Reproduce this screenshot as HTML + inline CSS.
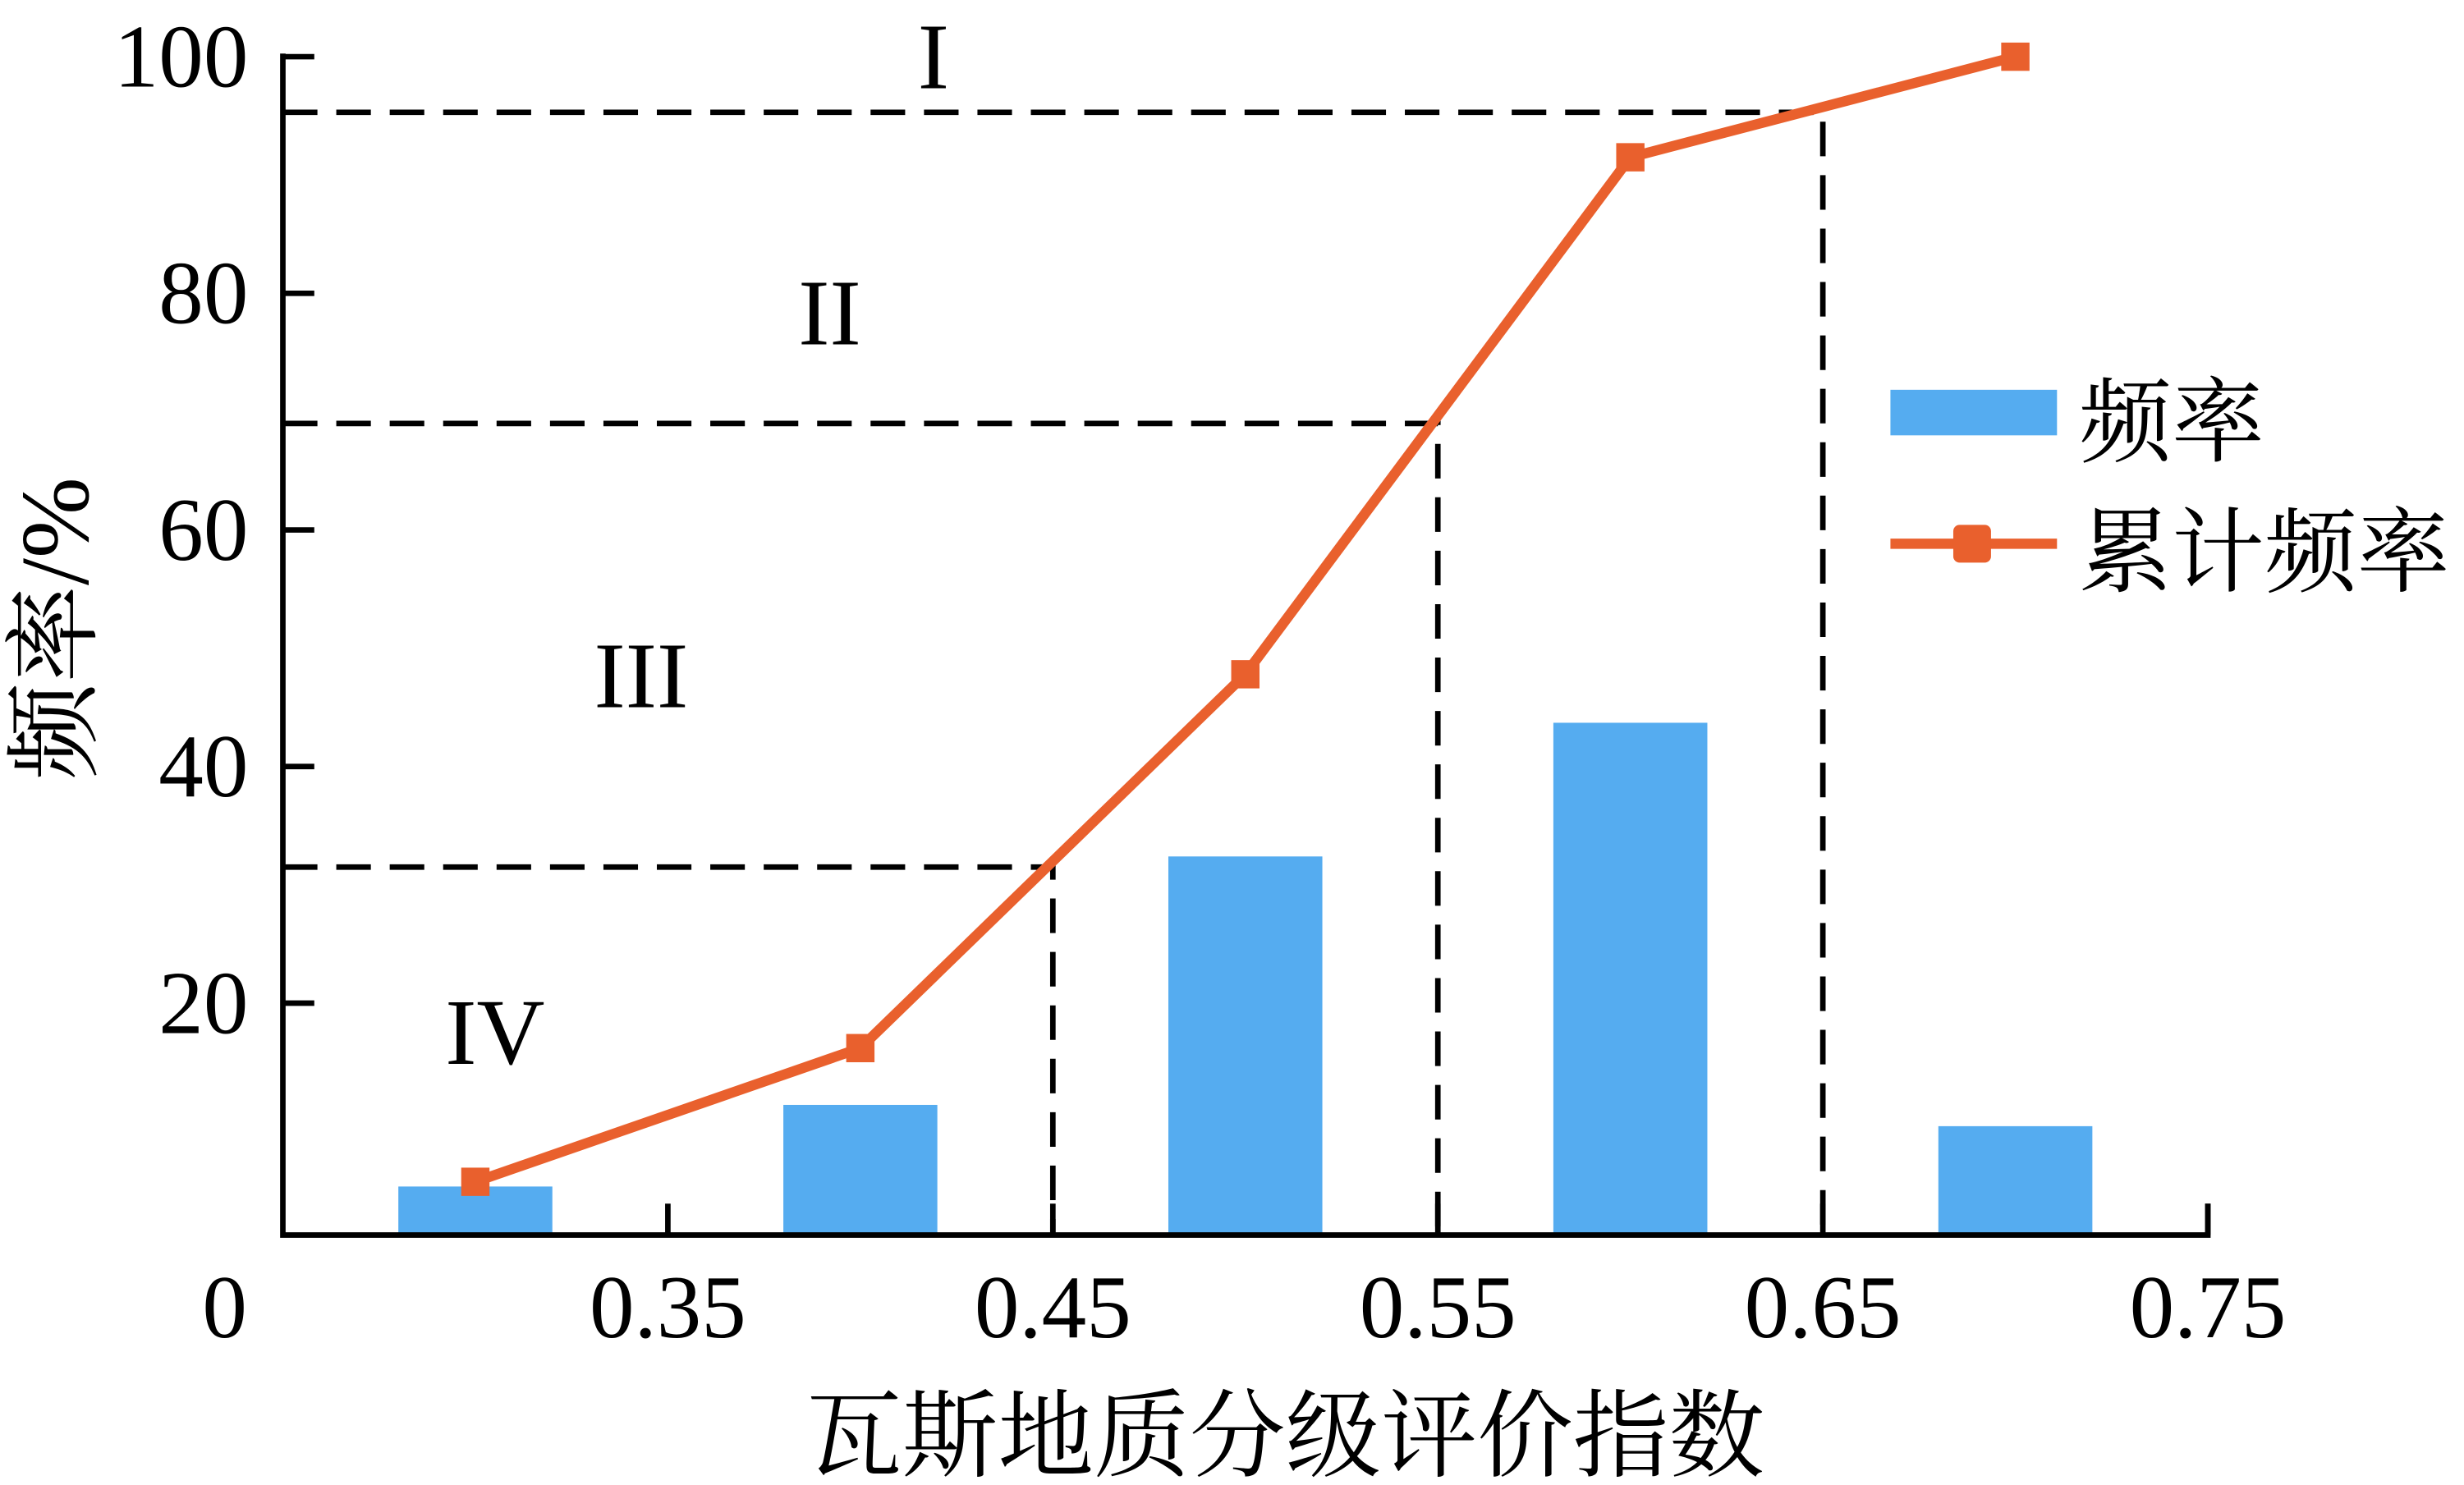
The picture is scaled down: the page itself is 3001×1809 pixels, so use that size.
<!DOCTYPE html>
<html><head><meta charset="utf-8"><style>html,body{margin:0;padding:0;background:#fff}svg{display:block}</style></head>
<body>
<svg id="chart" width="3001" height="1809" viewBox="0 0 1568 945" xmlns="http://www.w3.org/2000/svg" font-family="'Liberation Serif','Noto Serif CJK SC',serif">
<g id="g"></g>
</svg>
<script>
const categories=[0.3,0.4,0.5,0.6,0.7];
const freq=[4.5,11.4,32.4,43.7,9.6];
const cumFreq=[4.9,16.2,47.8,91.5,100];
const yTicks=[20,40,60,80,100];
const xTicks=[0.35,0.45,0.55,0.65,0.75];
const xTickLabels=["0.35","0.45","0.55","0.65","0.75"];
const thresholds=[95.3,69,31.5];
const thresholdX=[0.65,0.55,0.45];
const gradeLabels=["I","II","III","IV"];
const x0=180,x1=1405,y0=789,y1=36;
const X=v=>x0+(v-0.25)/0.5*(x1-x0);
const Y=v=>y0-v/100*(y0-y1);
const NS="http://www.w3.org/2000/svg",g=document.getElementById('g');
function el(t,a,txt){const e=document.createElementNS(NS,t);for(const k in a)e.setAttribute(k,a[k]);if(txt!=null)e.textContent=txt;g.appendChild(e);return e;}
categories.forEach((c,i)=>{const e=el('rect',{x:X(c)-49,y:Y(freq[i]),width:98,height:Y(0)-Y(freq[i])-3,fill:'#55acf0'});

});
thresholds.forEach((v,i)=>{const p=el('path',{d:`M${x0} ${Y(v)}H${X(thresholdX[i])}V${y0-3}`,fill:'none',stroke:'#000','stroke-width':3.5,'stroke-dasharray':'22 12'});

});
const ax=el('path',{d:`M${x0} ${y1-2}V${y0-3}H${x1}V${y0-23}`,fill:'none',stroke:'#000','stroke-width':3.5});


yTicks.forEach(v=>{const t=el('line',{x1:x0,x2:x0+20,y1:Y(v),y2:Y(v),stroke:'#000','stroke-width':3.5});


const l=el('text',{x:158,y:Y(v)+19,'font-size':57,'text-anchor':'end'},String(v));

});
const z=el('text',{x:143,y:851,'font-size':57,'text-anchor':'middle'},"0");


xTicks.forEach((v,i)=>{const t=el('line',{x1:X(v),x2:X(v),y1:y0-3,y2:y0-23,stroke:'#000','stroke-width':3.5});


const l=el('text',{x:X(v),y:851,'font-size':57,'text-anchor':'middle'},xTickLabels[i]);

});
const ln=el('polyline',{points:categories.map((c,i)=>X(c)+','+Y(cumFreq[i])).join(' '),fill:'none',stroke:'#e9602d','stroke-width':6.5});


categories.forEach((c,i)=>{const m=el('rect',{x:X(c)-9,y:Y(cumFreq[i])-9,width:18,height:18,fill:'#e9602d'});

});
const pos=[[594,56],[528,219],[408,450],[315,677]];
gradeLabels.forEach((t,i)=>{const e=el('text',{x:pos[i][0],y:pos[i][1],'font-size':60,'text-anchor':'middle'},t);

});
let e=el('rect',{x:1203,y:248,width:106,height:29,fill:'#55acf0'});


e=el('text',{x:1323,y:289,'font-size':59},'频率');


e=el('line',{x1:1203,x2:1309,y1:346,y2:346,stroke:'#e9602d','stroke-width':6.5});


e=el('rect',{x:1243,y:334,width:24,height:24,rx:4,fill:'#e9602d'});


e=el('text',{x:1323,y:372,'font-size':59},'累计频率');


e=el('text',{x:818,y:935,'font-size':61,'text-anchor':'middle'},'瓦斯地质分级评价指数');


e=el('text',{x:0,y:0,'font-size':62,'text-anchor':'middle',transform:'translate(56 400) rotate(-90)'},'频率/%');


</script>
</body></html>
